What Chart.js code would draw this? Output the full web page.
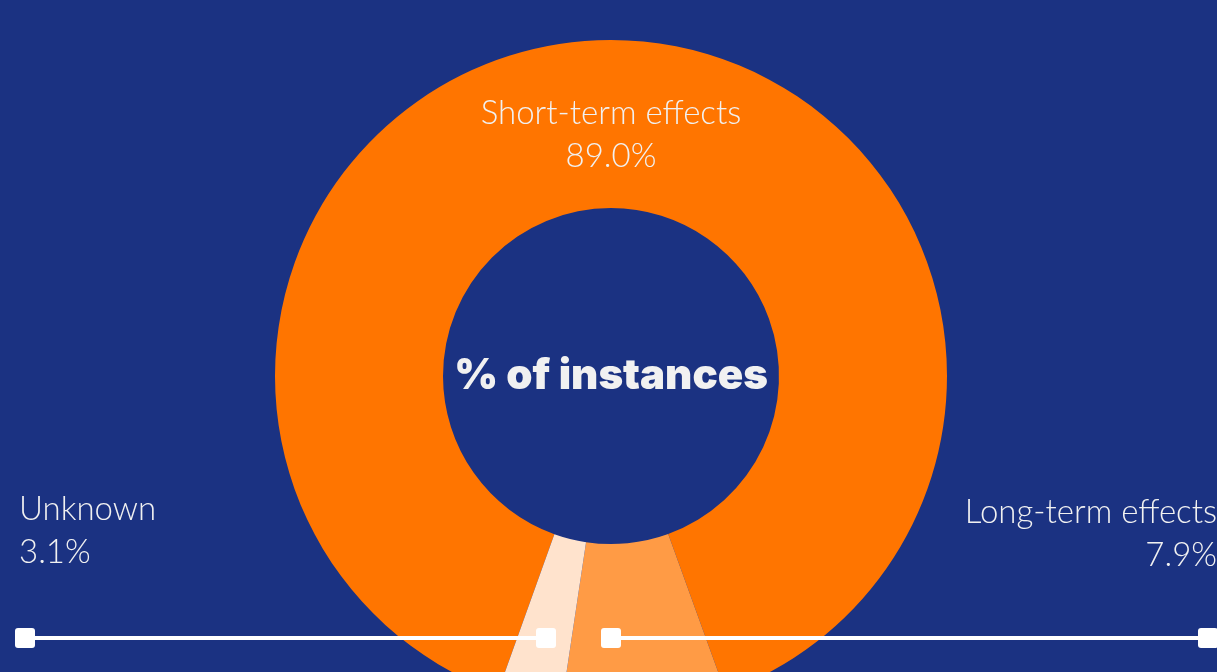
<!DOCTYPE html>
<html>
<head>
<meta charset="utf-8">
<script src="https://cdn.jsdelivr.net/npm/chart.js@4"></script>
<style>
  html, body { margin:0; padding:0; background:#1b3282; overflow:hidden; width:1217px; height:672px; }
  #wrap { position:relative; width:1217px; height:712px; }
</style>
</head>
<body>
<div id="wrap"><canvas id="c"></canvas></div>
<script>
const categories = ["Short-term effects", "Long-term effects", "Unknown"];
const values = [89.0, 7.9, 3.1];
const valueLabels = ["89.0%", "7.9%", "3.1%"];
const colors = ["#ff7500", "#ff9b45", "#ffe3cd"];
const centerTitle = "% of instances";

const labelFont = '300 33px "Lato", "Open Sans", sans-serif';
const textColor = "#f1f1f1";

function roundRect(ctx, x, y, w, h, r) {
  ctx.beginPath();
  ctx.moveTo(x + r, y);
  ctx.lineTo(x + w - r, y);
  ctx.quadraticCurveTo(x + w, y, x + w, y + r);
  ctx.lineTo(x + w, y + h - r);
  ctx.quadraticCurveTo(x + w, y + h, x + w - r, y + h);
  ctx.lineTo(x + r, y + h);
  ctx.quadraticCurveTo(x, y + h, x, y + h - r);
  ctx.lineTo(x, y + r);
  ctx.quadraticCurveTo(x, y, x + r, y);
  ctx.closePath();
}

const labelsPlugin = {
  id: "labelsPlugin",
  afterDatasetsDraw(chart) {
    const ctx = chart.ctx;
    const meta = chart.getDatasetMeta(0);
    const arc0 = meta.data[0];
    const cx = arc0.x, cy = arc0.y;
    ctx.save();
    // center title
    ctx.fillStyle = textColor;
    ctx.font = '900 42px "Inter", "Lato", sans-serif';
    ctx.textAlign = "center";
    ctx.textBaseline = "middle";
    ctx.fillText(centerTitle, cx, cy);

    // Short-term label inside ring
    ctx.font = labelFont;
    ctx.textAlign = "center";
    ctx.textBaseline = "alphabetic";
    ctx.fillText(categories[0], cx, 124);
    ctx.fillText(valueLabels[0], cx, 167);

    // Long-term label (right)
    ctx.textAlign = "right";
    ctx.fillText(categories[1], 1217, 523);
    ctx.fillText(valueLabels[1], 1217, 566);
    // Unknown label (left)
    ctx.textAlign = "left";
    ctx.fillText(categories[2], 19, 520);
    ctx.fillText(valueLabels[2], 19, 563);

    // leader lines
    const ly = 638;
    ctx.strokeStyle = "#ffffff";
    ctx.fillStyle = "#ffffff";
    ctx.lineWidth = 4;
    ctx.beginPath(); ctx.moveTo(25, ly); ctx.lineTo(546, ly); ctx.stroke();
    ctx.beginPath(); ctx.moveTo(611, ly); ctx.lineTo(1208, ly); ctx.stroke();
    [25, 546, 611, 1208].forEach(x => {
      roundRect(ctx, x - 10, ly - 10, 20, 20, 3);
      ctx.fill();
    });
    ctx.restore();
  }
};

new Chart(document.getElementById("c"), {
  type: "doughnut",
  data: {
    labels: categories,
    datasets: [{
      data: values,
      backgroundColor: colors,
      borderWidth: 0
    }]
  },
  options: {
    responsive: true,
    maintainAspectRatio: false,
    animation: false,
    rotation: -160.3,
    cutout: "50%",
    layout: { padding: { top: 40, left: 5 } },
    plugins: {
      legend: { display: false },
      tooltip: { enabled: false }
    }
  },
  plugins: [labelsPlugin]
});
</script>
</body>
</html>
